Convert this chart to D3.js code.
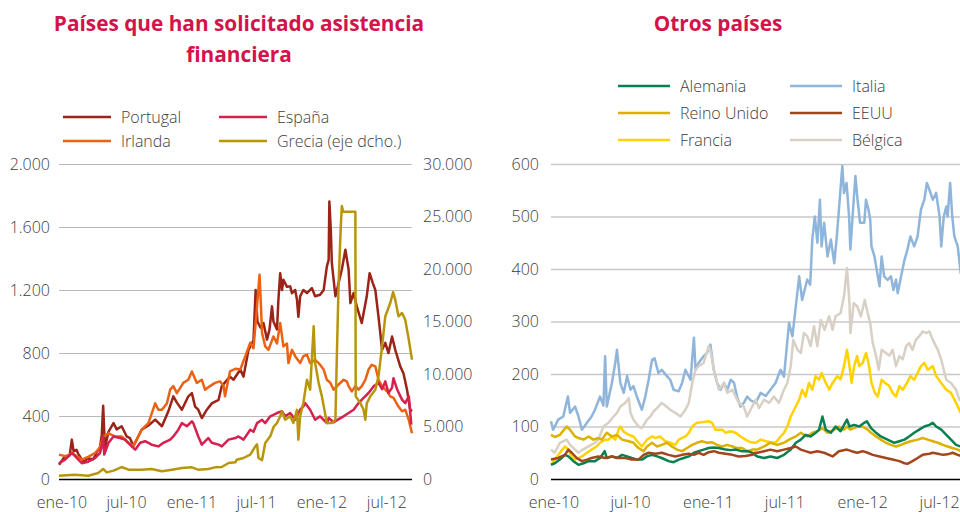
<!DOCTYPE html>
<html>
<head>
<meta charset="utf-8">
<script src="https://cdnjs.cloudflare.com/ajax/libs/d3/7.8.5/d3.min.js"></script>
<style>
body { margin: 0; background: #fff; }
text { font-family: "Open Sans", sans-serif; }
.title { font-weight: 700; font-size: 20.8px; fill: #d4124b; }
.lbl { font-size: 16px; fill: #3d3d3d; font-weight: 300; }
</style>
</head>
<body>
<svg id="chart" width="960" height="512"></svg>
<script>
// Series are [months since ene-10, value]
var portugal = [[0,90],[0.55,145],[1.0,150],[1.17,250],[1.35,175],[1.6,185],[1.78,160],[2.25,110],[2.71,130],[3.17,125],[3.48,170],[3.78,200],[3.95,280],[4.09,465],[4.18,300],[4.25,200],[4.55,300],[5.02,355],[5.32,315],[5.78,335],[6.25,270],[6.55,260],[6.86,210],[7.1,240],[7.63,313],[8.25,340],[8.86,377],[9.48,335],[10.09,430],[10.55,525],[10.86,485],[11.32,440],[11.94,525],[12.25,545],[12.55,460],[12.86,440],[13.17,387],[13.63,440],[14.09,480],[14.71,503],[15.02,590],[15.78,650],[16.09,630],[16.71,695],[17.02,650],[17.48,820],[17.94,880],[18.15,1200],[18.3,1000],[18.6,960],[18.86,990],[19.17,885],[19.4,950],[19.63,1096],[19.78,1000],[20.09,950],[20.25,1140],[20.4,1307],[20.55,1200],[20.71,1265],[21.02,1220],[21.32,1223],[21.48,1180],[21.78,1200],[21.94,1140],[22.09,1030],[22.25,1160],[22.55,1200],[22.86,1180],[23.32,1212],[23.63,1160],[24.09,1170],[24.4,1200],[24.71,1350],[24.86,1390],[24.95,1762],[25.08,1583],[25.17,1371],[25.48,1160],[25.78,1244],[26.09,1330],[26.4,1456],[26.71,1330],[26.86,1117],[27.17,1180],[27.48,1096],[27.94,990],[28.4,1160],[28.65,1307],[28.95,1244],[29.17,1200],[29.48,1030],[29.78,820],[30.09,864],[30.4,800],[30.71,905],[31.02,820],[31.48,715],[31.78,672],[32.09,567],[32.4,440],[32.55,430]];
var irlanda = [[0,155],[0.55,145],[0.86,150],[1.17,165],[2.09,123],[2.71,140],[3.32,165],[3.78,200],[4.09,270],[4.55,290],[5.17,270],[5.78,270],[6.4,230],[6.86,210],[7.63,313],[8.25,355],[8.86,480],[9.17,440],[9.48,440],[9.94,480],[10.25,567],[10.55,590],[10.86,545],[11.48,610],[11.94,630],[12.25,683],[12.71,610],[13.17,630],[13.48,567],[13.94,590],[14.4,610],[14.86,620],[15.17,590],[15.32,525],[15.78,683],[16.25,700],[16.71,695],[17.17,780],[17.63,865],[17.94,830],[18.25,1096],[18.49,1297],[18.62,1096],[18.71,927],[19.02,842],[19.32,820],[19.78,905],[20.09,860],[20.4,990],[20.71,842],[21.02,860],[21.17,736],[21.48,820],[21.78,780],[22.25,736],[22.55,780],[22.86,790],[23.17,736],[23.63,756],[23.94,736],[24.4,695],[24.71,630],[25.02,610],[25.32,567],[25.78,600],[26.25,630],[26.55,620],[26.71,590],[27.02,556],[27.32,590],[27.63,567],[27.94,590],[28.25,630],[28.55,695],[28.86,725],[29.17,715],[29.48,630],[29.78,590],[30.25,556],[30.55,525],[30.86,515],[31.32,460],[31.63,430],[31.94,440],[32.25,375],[32.55,290]];
var espana = [[0,100],[0.55,123],[1.17,165],[1.48,145],[2.09,100],[2.71,110],[3.32,133],[3.78,165],[3.94,207],[4.09,270],[4.18,155],[4.55,230],[5.02,270],[5.63,260],[6.09,250],[6.71,207],[7.02,186],[7.48,230],[7.94,240],[8.55,218],[9.17,207],[9.63,230],[10.25,250],[10.55,270],[11.02,313],[11.32,355],[11.78,335],[12.25,366],[12.4,355],[12.86,270],[13.17,218],[13.78,260],[14.09,230],[14.71,218],[15.02,207],[15.63,250],[16.25,260],[16.55,270],[17.02,250],[17.63,313],[17.94,300],[18.25,355],[18.71,376],[19.02,355],[19.48,398],[20.09,419],[20.55,430],[20.86,398],[21.32,419],[21.78,376],[22.25,440],[22.55,461],[22.71,482],[23.17,440],[23.63,376],[24.09,398],[24.71,355],[24.86,387],[25.32,360],[25.78,380],[26.25,398],[26.71,419],[27.17,440],[27.63,482],[28.09,515],[28.55,546],[29.02,588],[29.48,610],[29.78,570],[30.09,620],[30.4,546],[30.71,580],[30.86,640],[31.17,570],[31.63,504],[31.94,482],[32.25,525],[32.49,345]];
var grecia = [[0,317],[1.48,410],[2.71,317],[3.63,570],[4.09,950],[4.4,630],[5.02,800],[5.78,1140],[6.4,890],[7.63,890],[8.55,950],[9.48,730],[10.4,890],[11.32,1050],[12.25,1110],[12.86,890],[13.78,950],[14.4,1110],[15.02,1140],[15.63,1520],[16.25,1585],[16.4,1840],[17.02,2000],[17.63,2320],[18.1,3100],[18.25,3300],[18.4,2000],[18.71,1800],[19.02,3430],[19.48,4060],[19.8,5000],[20.09,5330],[20.4,5970],[20.55,6440],[20.86,5650],[21.32,5970],[21.63,5330],[21.94,6600],[22.09,3750],[22.25,5970],[22.55,7240],[22.86,9460],[23.17,8510],[23.48,14540],[23.63,11050],[23.94,9140],[24.25,7870],[24.71,5330],[25.17,5330],[25.48,5650],[25.63,11680],[25.78,18660],[26.0,24000],[26.1,26000],[26.2,25450],[27.32,25450],[27.38,7870],[27.78,7240],[28.09,6600],[28.25,5650],[28.4,7200],[28.71,7870],[29.17,8510],[29.48,9780],[29.78,12630],[30.09,15490],[30.55,16760],[30.8,17800],[31.02,17080],[31.32,15490],[31.63,15810],[31.94,15170],[32.25,13270],[32.55,11360]];

var italia = [[0,110],[0.18,94],[0.57,113],[0.96,119],[1.3,157],[1.48,126],[1.87,138],[2.13,119],[2.39,94],[2.78,107],[3.17,119],[3.43,132],[3.82,157],[4.08,140],[4.21,234],[4.34,138],[4.73,183],[4.99,221],[5.12,246],[5.38,183],[5.64,164],[5.9,196],[6.16,170],[6.42,177],[6.68,157],[7.06,132],[7.32,157],[7.58,189],[7.84,227],[8.05,230],[8.36,202],[8.62,208],[9.01,196],[9.27,189],[9.53,170],[9.92,167],[10.18,183],[10.44,208],[10.83,189],[11.09,269],[11.22,208],[11.48,221],[11.87,234],[12.13,240],[12.39,256],[12.65,208],[12.91,183],[13.17,170],[13.43,183],[13.69,170],[13.95,189],[14.21,183],[14.47,157],[14.73,138],[14.99,145],[15.25,157],[15.51,150],[15.9,145],[16.29,164],[16.68,158],[17.06,170],[17.45,183],[17.84,208],[18.1,195],[18.31,246],[18.49,297],[18.75,272],[19.01,329],[19.27,386],[19.53,341],[19.92,380],[20.13,370],[20.31,456],[20.49,500],[20.7,450],[20.88,532],[21.04,443],[21.22,488],[21.48,424],[21.74,456],[22.0,411],[22.2,462],[22.38,513],[22.65,596],[22.78,545],[22.96,564],[23.17,500],[23.27,437],[23.51,532],[23.64,577],[23.82,532],[24.0,488],[24.34,488],[24.47,532],[24.66,513],[24.79,494],[24.91,443],[25.12,424],[25.38,386],[25.51,367],[25.69,424],[25.9,386],[26.16,379],[26.42,386],[26.62,360],[26.81,380],[26.94,354],[27.19,386],[27.45,417],[27.71,437],[27.92,462],[28.23,443],[28.49,462],[28.75,513],[29.01,532],[29.22,564],[29.4,551],[29.66,532],[29.92,545],[30.18,500],[30.31,443],[30.52,500],[30.7,519],[30.83,500],[31.01,564],[31.17,500],[31.35,462],[31.61,443],[31.82,392],[32.2,380]];
var belgica = [[0,56],[0.31,50],[0.7,69],[1.22,75],[1.48,65],[1.87,56],[2.13,50],[2.39,55],[2.91,62],[3.43,69],[3.69,75],[4.08,100],[4.47,107],[4.86,119],[5.12,126],[5.38,138],[5.77,145],[6.03,154],[6.16,126],[6.42,113],[6.81,100],[7.06,97],[7.45,113],[7.71,119],[7.97,129],[8.36,138],[8.62,145],[8.88,140],[9.27,132],[9.66,126],[10.05,119],[10.44,132],[10.7,145],[10.96,183],[11.22,208],[11.48,215],[11.87,221],[12.26,253],[12.39,246],[12.65,208],[13.04,170],[13.43,183],[13.69,164],[14.08,170],[14.34,157],[14.6,145],[14.99,138],[15.25,119],[15.51,132],[15.9,151],[16.16,135],[16.55,151],[16.94,145],[17.32,157],[17.71,145],[18.1,170],[18.36,183],[18.62,215],[18.83,265],[19.14,246],[19.4,240],[19.66,278],[19.92,272],[20.18,253],[20.44,291],[20.7,253],[20.96,303],[21.27,284],[21.61,310],[21.87,284],[22.12,310],[22.51,316],[22.78,348],[23.01,402],[23.19,335],[23.27,278],[23.51,335],[23.77,329],[24.08,310],[24.39,341],[24.6,316],[24.81,297],[24.99,259],[25.25,234],[25.45,208],[25.69,246],[26.03,240],[26.29,235],[26.55,246],[26.81,215],[27.06,234],[27.32,228],[27.58,253],[27.84,259],[28.1,246],[28.36,265],[28.62,272],[28.88,281],[29.14,278],[29.4,281],[29.66,265],[30.05,246],[30.31,227],[30.7,189],[31.09,183],[31.48,170],[31.74,151],[32.2,145]];
var francia = [[0,27],[0.31,37],[0.7,50],[1.09,62],[1.35,56],[1.61,43],[1.87,37],[2.39,43],[2.78,50],[3.17,56],[3.56,62],[3.82,69],[4.21,75],[4.47,75],[4.73,81],[4.99,75],[5.25,94],[5.38,100],[5.64,90],[6.03,84],[6.42,81],[6.81,69],[7.06,62],[7.45,75],[7.84,81],[8.1,78],[8.49,81],[8.88,72],[9.27,69],[9.66,65],[9.92,75],[10.44,81],[10.7,88],[10.96,100],[11.35,107],[11.74,108],[12.26,110],[12.52,107],[12.78,94],[13.3,94],[13.56,88],[13.95,91],[14.34,88],[14.73,81],[15.12,75],[15.51,70],[15.9,69],[16.29,75],[16.68,72],[17.06,70],[17.45,69],[17.84,81],[18.1,88],[18.36,100],[18.62,119],[18.88,132],[19.27,151],[19.53,170],[19.79,157],[20.05,183],[20.31,170],[20.57,196],[20.83,189],[21.01,202],[21.35,183],[21.61,170],[21.87,183],[22.25,196],[22.51,190],[22.78,215],[22.99,246],[23.17,221],[23.35,183],[23.56,215],[23.77,234],[23.95,215],[24.21,221],[24.47,240],[24.66,221],[24.91,183],[25.17,164],[25.38,157],[25.69,189],[25.95,183],[26.29,177],[26.55,164],[26.81,157],[27.06,177],[27.32,170],[27.66,183],[27.92,196],[28.23,189],[28.49,202],[28.75,215],[29.01,221],[29.27,208],[29.66,215],[29.92,196],[30.31,183],[30.7,170],[31.09,164],[31.48,145],[31.82,126],[32.2,118]];
var reinoUnido = [[0,84],[0.31,80],[0.7,84],[1.22,100],[1.48,94],[1.87,81],[2.13,78],[2.52,75],[2.91,81],[3.3,75],[3.69,78],[3.95,75],[4.34,88],[4.73,81],[5.12,84],[5.51,75],[6.03,72],[6.42,69],[6.81,59],[7.19,53],[7.45,62],[7.84,69],[8.23,62],[8.62,65],[9.01,69],[9.4,62],[9.79,56],[10.18,53],[10.57,59],[10.96,65],[11.35,69],[11.74,72],[12.13,69],[12.52,70],[12.91,65],[13.3,62],[13.69,65],[14.08,62],[14.47,59],[14.86,59],[15.25,53],[15.64,56],[16.03,56],[16.55,62],[17.06,69],[17.58,65],[18.1,69],[18.49,75],[19.01,81],[19.4,88],[19.92,81],[20.31,88],[20.7,91],[21.09,97],[21.48,88],[22.0,94],[22.38,100],[22.78,94],[22.99,100],[23.27,94],[23.82,100],[24.21,100],[24.6,94],[24.86,88],[25.25,81],[25.64,75],[26.03,69],[26.42,65],[26.81,62],[27.19,65],[27.58,69],[27.97,72],[28.49,75],[28.88,78],[29.27,75],[29.66,72],[30.05,69],[30.44,65],[30.83,62],[31.17,59],[31.61,56],[31.82,53],[32.2,50]];
var alemania = [[0,27],[0.31,30],[0.7,37],[1.09,46],[1.35,43],[1.74,34],[2.13,27],[2.52,30],[2.91,34],[3.43,34],[3.82,40],[4.16,53],[4.34,40],[4.73,43],[5.12,40],[5.51,46],[5.9,43],[6.29,40],[6.68,37],[7.06,37],[7.45,43],[7.84,46],[8.23,43],[8.62,40],[9.14,34],[9.53,32],[9.92,37],[10.31,40],[10.7,43],[11.09,50],[11.48,53],[11.87,56],[12.26,59],[12.65,60],[13.04,59],[13.56,56],[13.95,55],[14.34,56],[14.86,53],[15.25,53],[15.64,50],[15.84,46],[16.03,43],[16.55,40],[17.06,43],[17.58,40],[18.1,46],[18.62,56],[19.01,69],[19.4,75],[19.79,84],[20.18,81],[20.57,88],[20.83,94],[21.09,119],[21.35,94],[21.74,88],[22.12,100],[22.51,91],[22.99,113],[23.19,100],[23.56,103],[23.95,100],[24.34,107],[24.55,110],[24.86,97],[25.25,88],[25.64,81],[26.16,75],[26.68,69],[27.06,72],[27.45,75],[27.84,81],[28.23,88],[28.62,94],[29.01,100],[29.4,103],[29.66,107],[29.92,100],[30.31,94],[30.7,84],[31.09,75],[31.48,65],[31.82,62],[32.2,58]];
var eeuu = [[0,37],[0.57,40],[1.09,46],[1.35,56],[1.61,50],[2.0,40],[2.39,34],[2.78,37],[3.17,40],[3.69,43],[4.21,40],[4.73,43],[5.25,40],[5.77,40],[6.29,37],[6.81,37],[7.19,46],[7.58,50],[8.1,48],[8.62,50],[9.14,46],[9.66,43],[10.18,46],[10.7,48],[11.09,46],[11.48,50],[11.87,46],[12.26,51],[12.65,53],[13.04,50],[13.56,48],[14.08,46],[14.6,43],[15.12,44],[15.64,46],[15.84,50],[16.03,50],[16.55,53],[17.06,56],[17.58,53],[18.1,56],[18.62,59],[19.01,62],[19.4,56],[19.79,53],[20.18,50],[20.7,53],[21.22,50],[21.87,43],[22.38,53],[22.99,56],[23.35,53],[23.77,50],[24.21,53],[24.6,50],[24.99,46],[25.51,43],[26.03,40],[26.55,37],[27.06,34],[27.45,30],[27.71,29],[28.1,34],[28.49,40],[28.88,46],[29.4,48],[29.66,50],[30.05,48],[30.44,46],[30.83,47],[31.22,50],[31.61,46],[31.82,44],[32.2,42]];

var leftTicks = [0, 400, 800, 1200, 1600, 2000];
var greciaTicks = [0, 5000, 10000, 15000, 20000, 25000, 30000];
var rightTicks = [0, 100, 200, 300, 400, 500, 600];
var xTickLabels = ["ene-10", "jul-10", "ene-11", "jul-11", "ene-12", "jul-12"];
var xTickMonths = [0, 6, 12, 18, 24, 30];

var leftNames = ["Portugal", "España", "Irlanda", "Grecia (eje dcho.)"];
var leftColors = ["#9b2318", "#d6204e", "#ec6113", "#b8960c"];
var rightNames = ["Alemania", "Italia", "Reino Unido", "EEUU", "Francia", "Bélgica"];
var rightColors = ["#0a8050", "#8fb5da", "#ddb100", "#a4461c", "#ffd200", "#d8d0c5"];

var start = new Date(2010, 0, 1);
function toDate(m) { return d3.timeDay.offset(start, Math.round(m * 30.44)); }
var end = toDate(32.55);

var locale = d3.formatLocale({decimal: ",", thousands: ".", grouping: [3], currency: ["", "€"]});
var fmt = locale.format(",d");

var svg = d3.select("#chart");

// Step 1: scales
// ==============================
var xL = d3.scaleTime().domain([start, end]).range([59, 412]);
var yL = d3.scaleLinear().domain([0, 2000]).range([479, 164]);
var yG = d3.scaleLinear().domain([0, 30000]).range([479, 164]);
var xR = d3.scaleTime().domain([start, end]).range([551, 970]);
var yR = d3.scaleLinear().domain([0, 600]).range([479, 164]);

// Step 2: axes + grid
// ==============================
function grid(color, width) {
    return function(g) {
        g.select(".domain").remove();
        g.selectAll(".tick line").attr("stroke", color).attr("stroke-width", width);
        g.selectAll(".tick text").attr("class", "lbl");
        g.selectAll(".tick").filter(d => d === 0).select("line").attr("stroke", "#000").attr("stroke-width", 1.3);
    };
}

svg.append("g")
    .attr("transform", "translate(59,0)")
    .call(d3.axisLeft(yL).tickValues(leftTicks).tickFormat(fmt).tickSize(-(412 - 59)).tickPadding(9))
    .call(grid("#bababa", 1));

svg.append("g")
    .attr("transform", "translate(412,0)")
    .call(d3.axisRight(yG).tickValues(greciaTicks).tickFormat(fmt).tickSize(0).tickPadding(11))
    .call(grid("#bababa", 1));

svg.append("g")
    .attr("transform", "translate(551,0)")
    .call(d3.axisLeft(yR).tickValues(rightTicks).tickFormat(fmt).tickSize(-(960 - 551)).tickPadding(12))
    .call(grid("#c8c8c8", 1.3));

xTickMonths.forEach(function(m, i) {
    svg.append("text").attr("class", "lbl")
        .attr("x", xL(d3.timeMonth.offset(start, m)) + 3).attr("y", 508)
        .attr("text-anchor", "middle").text(xTickLabels[i]);
    svg.append("text").attr("class", "lbl")
        .attr("x", xR(d3.timeMonth.offset(start, m)) + 3).attr("y", 508)
        .attr("text-anchor", "middle").text(xTickLabels[i]);
});

// Step 3: lines
// ==============================
function draw(data, x, y, color) {
    var line = d3.line().x(d => x(toDate(d[0]))).y(d => y(d[1]));
    svg.append("path").datum(data)
        .attr("d", line)
        .attr("fill", "none")
        .attr("stroke", color)
        .attr("stroke-width", 2.5)
        .attr("stroke-linejoin", "round");
}

draw(portugal, xL, yL, leftColors[0]);
draw(irlanda, xL, yL, leftColors[2]);
draw(espana, xL, yL, leftColors[1]);
draw(grecia, xL, yG, leftColors[3]);

draw(italia, xR, yR, rightColors[1]);
draw(belgica, xR, yR, rightColors[5]);
draw(francia, xR, yR, rightColors[4]);
draw(reinoUnido, xR, yR, rightColors[2]);
draw(alemania, xR, yR, rightColors[0]);
draw(eeuu, xR, yR, rightColors[3]);

// Step 4: titles + legends
// ==============================
svg.append("text").attr("class", "title").attr("x", 239).attr("y", 31).attr("text-anchor", "middle")
    .text("Países que han solicitado asistencia");
svg.append("text").attr("class", "title").attr("x", 239).attr("y", 62).attr("text-anchor", "middle")
    .text("financiera");
svg.append("text").attr("class", "title").attr("x", 718).attr("y", 31).attr("text-anchor", "middle")
    .text("Otros países");

function legend(names, colors, x0, colGap, y0, rowGap, len) {
    names.forEach(function(n, i) {
        var lx = x0 + (i % 2) * colGap;
        var ly = y0 + Math.floor(i / 2) * rowGap;
        svg.append("line").attr("x1", lx).attr("x2", lx + len).attr("y1", ly).attr("y2", ly)
            .attr("stroke", colors[i]).attr("stroke-width", 2.5);
        svg.append("text").attr("class", "lbl").attr("x", lx + len + 10).attr("y", ly + 6).text(n);
    });
}
legend(leftNames, leftColors, 63, 156, 117, 24, 48);
legend(rightNames, rightColors, 618, 172, 86, 27, 52);
</script>
</body>
</html>
